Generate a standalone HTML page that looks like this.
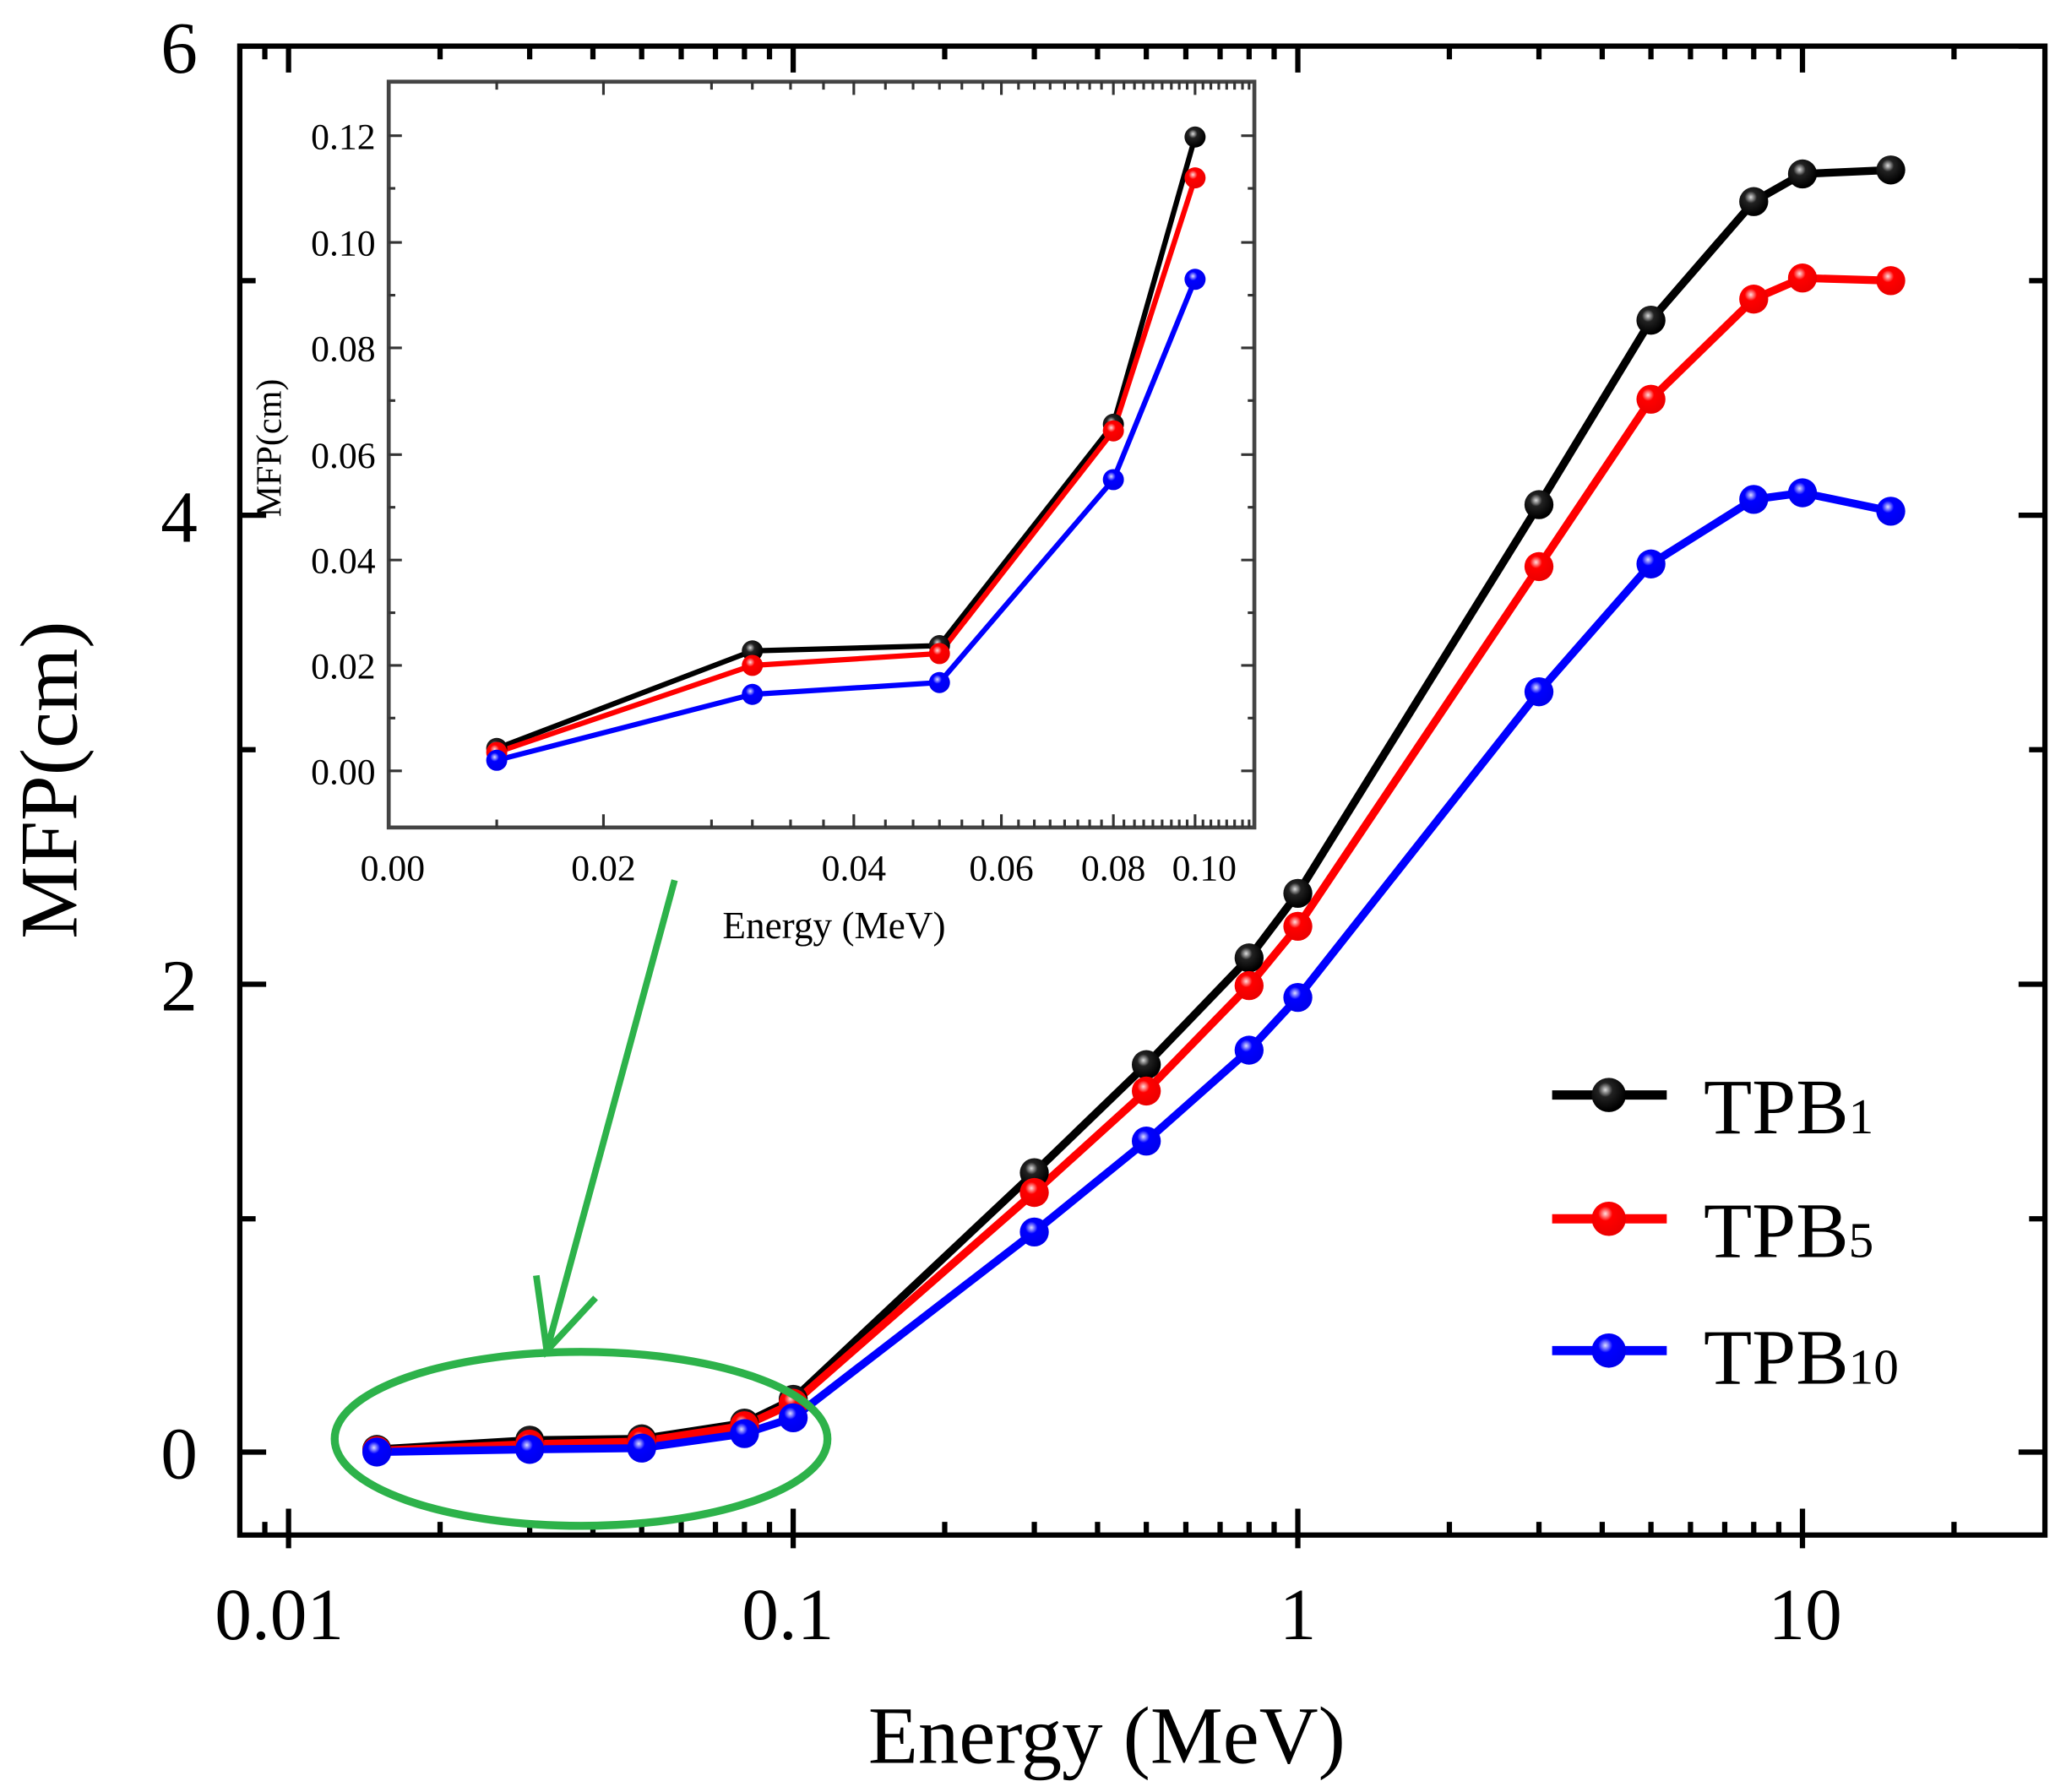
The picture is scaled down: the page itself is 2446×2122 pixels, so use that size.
<!DOCTYPE html>
<html><head><meta charset="utf-8"><style>html,body{margin:0;padding:0;background:#fff}svg{display:block}</style></head>
<body>
<svg width="2446" height="2122" viewBox="0 0 1568 1360" preserveAspectRatio="none" xmlns="http://www.w3.org/2000/svg" font-family="'Liberation Serif', serif">
<defs>
<radialGradient id="gk" cx="0.4" cy="0.35" r="0.6"><stop offset="0" stop-color="#ddd"/><stop offset="0.35" stop-color="#222"/><stop offset="1" stop-color="#000"/></radialGradient>
<radialGradient id="gr" cx="0.4" cy="0.35" r="0.6"><stop offset="0" stop-color="#fdd"/><stop offset="0.35" stop-color="#f00"/><stop offset="1" stop-color="#e00"/></radialGradient>
<radialGradient id="gb" cx="0.4" cy="0.35" r="0.6"><stop offset="0" stop-color="#ddf"/><stop offset="0.35" stop-color="#00f"/><stop offset="1" stop-color="#00e"/></radialGradient>
</defs>
<rect x="182" y="35" width="1370" height="1130" fill="none" stroke="#000" stroke-width="4"/>
<g stroke="#000" stroke-width="4">
<path d="M182 35h20M182 391h20M182 747h20M182 1102h20M1552 35h-20M1552 391h-20M1552 747h-20M1552 1102h-20"/>
<path d="M182 213h12M182 569h12M182 925h12M1552 213h-12M1552 569h-12M1552 925h-12"/>
<path d="M219 1165v-20M602 1165v-20M985 1165v-20M1368 1165v-20M219 35v20M602 35v20M985 35v20M1368 35v20"/>
<path d="M219 1165v10M602 1165v10M985 1165v10M1368 1165v10"/>
<path d="M201 1165v-10M334 1165v-10M402 1165v-10M450 1165v-10M487 1165v-10M517 1165v-10M543 1165v-10M565 1165v-10M584 1165v-10M717 1165v-10M785 1165v-10M833 1165v-10M870 1165v-10M900 1165v-10M926 1165v-10M948 1165v-10M967 1165v-10M1100 1165v-10M1168 1165v-10M1216 1165v-10M1253 1165v-10M1283 1165v-10M1309 1165v-10M1331 1165v-10M1350 1165v-10M1483 1165v-10"/>
<path d="M201 35v10M334 35v10M402 35v10M450 35v10M487 35v10M517 35v10M543 35v10M565 35v10M584 35v10M717 35v10M785 35v10M833 35v10M870 35v10M900 35v10M926 35v10M948 35v10M967 35v10M1100 35v10M1168 35v10M1216 35v10M1253 35v10M1283 35v10M1309 35v10M1331 35v10M1350 35v10M1483 35v10"/>
</g>
<g font-size="56" text-anchor="end" fill="#000">
<text x="150" y="55">6</text><text x="150" y="411">4</text><text x="150" y="767">2</text><text x="150" y="1122">0</text>
</g>
<g font-size="56" text-anchor="middle" fill="#000">
<text x="212" y="1244">0.01</text><text x="598" y="1244">0.1</text><text x="985" y="1244">1</text><text x="1370" y="1244">10</text>
</g>
<text x="840" y="1338" font-size="62" text-anchor="middle">Energy (MeV)</text>
<text transform="translate(58,592) rotate(-90)" font-size="62" text-anchor="middle">MFP(cm)</text>

<g fill="none" stroke-width="6" stroke-linejoin="round">
<polyline stroke="#000" points="286,1100 402,1093 487,1092 565,1080 602,1062 785,890 870,808 948,727 985,678 1168,383 1253,243 1331,153 1368,132 1435,129"/>
<polyline stroke="#f00" points="286,1101 402,1096 487,1094 565,1082 602,1065 785,905 870,828 948,748 985,703 1168,430 1253,303 1331,227 1368,211 1435,213"/>
<polyline stroke="#00f" points="286,1102 402,1100 487,1099 565,1088 602,1076 785,935 870,866 948,797 985,757 1168,525 1253,428 1331,379 1368,374 1435,388"/>
</g>
<g fill="url(#gk)">
<circle cx="286" cy="1100" r="11"/><circle cx="402" cy="1093" r="11"/><circle cx="487" cy="1092" r="11"/><circle cx="565" cy="1080" r="11"/><circle cx="602" cy="1062" r="11"/><circle cx="785" cy="890" r="11"/><circle cx="870" cy="808" r="11"/><circle cx="948" cy="727" r="11"/><circle cx="985" cy="678" r="11"/><circle cx="1168" cy="383" r="11"/><circle cx="1253" cy="243" r="11"/><circle cx="1331" cy="153" r="11"/><circle cx="1368" cy="132" r="11"/><circle cx="1435" cy="129" r="11"/>
</g>
<g fill="url(#gr)">
<circle cx="286" cy="1101" r="11"/><circle cx="402" cy="1096" r="11"/><circle cx="487" cy="1094" r="11"/><circle cx="565" cy="1082" r="11"/><circle cx="602" cy="1065" r="11"/><circle cx="785" cy="905" r="11"/><circle cx="870" cy="828" r="11"/><circle cx="948" cy="748" r="11"/><circle cx="985" cy="703" r="11"/><circle cx="1168" cy="430" r="11"/><circle cx="1253" cy="303" r="11"/><circle cx="1331" cy="227" r="11"/><circle cx="1368" cy="211" r="11"/><circle cx="1435" cy="213" r="11"/>
</g>
<g fill="url(#gb)">
<circle cx="286" cy="1102" r="11"/><circle cx="402" cy="1100" r="11"/><circle cx="487" cy="1099" r="11"/><circle cx="565" cy="1088" r="11"/><circle cx="602" cy="1076" r="11"/><circle cx="785" cy="935" r="11"/><circle cx="870" cy="866" r="11"/><circle cx="948" cy="797" r="11"/><circle cx="985" cy="757" r="11"/><circle cx="1168" cy="525" r="11"/><circle cx="1253" cy="428" r="11"/><circle cx="1331" cy="379" r="11"/><circle cx="1368" cy="374" r="11"/><circle cx="1435" cy="388" r="11"/>
</g>

<g stroke-width="7">
<line x1="1178" y1="831" x2="1265" y2="831" stroke="#000"/>
<line x1="1178" y1="925" x2="1265" y2="925" stroke="#f00"/>
<line x1="1178" y1="1025" x2="1265" y2="1025" stroke="#00f"/>
</g>
<circle cx="1221" cy="831" r="13" fill="url(#gk)"/>
<circle cx="1221" cy="925" r="13" fill="url(#gr)"/>
<circle cx="1221" cy="1025" r="13" fill="url(#gb)"/>
<g font-size="60">
<text x="1293" y="860">TPB<tspan font-size="38">1</tspan></text>
<text x="1293" y="954">TPB<tspan font-size="38">5</tspan></text>
<text x="1293" y="1050">TPB<tspan font-size="38">10</tspan></text>
</g>

<ellipse cx="441" cy="1092" rx="187" ry="66" fill="none" stroke="#2db24a" stroke-width="6"/>
<path d="M512 668L415 1025M407 968L415 1025L452 985" fill="none" stroke="#2db24a" stroke-width="5"/>

<rect x="295" y="62" width="657" height="566" fill="#fff" stroke="#444" stroke-width="3"/>
<g stroke="#333" stroke-width="2">
<path d="M295 103h10M295 184h10M295 264h10M295 345h10M295 425h10M295 505h10M295 585h10M952 103h-10M952 184h-10M952 264h-10M952 345h-10M952 425h-10M952 505h-10M952 585h-10"/>
<path d="M295 143h5M295 224h5M295 304h5M295 385h5M295 465h5M295 545h5M952 143h-5M952 224h-5M952 304h-5M952 385h-5M952 465h-5M952 545h-5"/>
<path d="M458 628v-10M648 628v-10M760 628v-10M845 628v-10M907 628v-10M458 62v10M648 62v10M760 62v10M845 62v10M907 62v10"/>
<path d="M377 62v6M540 62v6M571 62v6M600 62v6M625 62v6M672 62v6M693 62v6M713 62v6M730 62v6M746 62v6M773 62v6M785 62v6M797 62v6M808 62v6M818 62v6M827 62v6M836 62v6M853 62v6M861 62v6M868 62v6M875 62v6M882 62v6M889 62v6M895 62v6M901 62v6M913 62v6M919 62v6M925 62v6M931 62v6M937 62v6M943 62v6M948 62v6"/>
<path d="M377 628v-6M540 628v-6M571 628v-6M600 628v-6M625 628v-6M672 628v-6M693 628v-6M713 628v-6M730 628v-6M746 628v-6M773 628v-6M785 628v-6M797 628v-6M808 628v-6M818 628v-6M827 628v-6M836 628v-6M853 628v-6M861 628v-6M868 628v-6M875 628v-6M882 628v-6M889 628v-6M895 628v-6M901 628v-6M913 628v-6M919 628v-6M925 628v-6M931 628v-6M937 628v-6M943 628v-6M948 628v-6"/>
</g>
<g font-size="28" text-anchor="end">
<text x="285" y="113">0.12</text><text x="285" y="194">0.10</text><text x="285" y="274">0.08</text><text x="285" y="355">0.06</text><text x="285" y="435">0.04</text><text x="285" y="515">0.02</text><text x="285" y="595">0.00</text>
</g>
<g font-size="28" text-anchor="middle">
<text x="298" y="668">0.00</text><text x="458" y="668">0.02</text><text x="648" y="668">0.04</text><text x="760" y="668">0.06</text><text x="845" y="668">0.08</text><text x="914" y="668">0.10</text>
</g>
<text x="633" y="712" font-size="29" text-anchor="middle">Energy (MeV)</text>
<text transform="translate(213,340) rotate(-90)" font-size="27" text-anchor="middle">MFP(cm)</text>
<g fill="none" stroke-width="4">
<polyline stroke="#000" points="377,568 571,494 713,490 845,322 907,104"/>
<polyline stroke="#f00" points="377,571 571,505 713,496 845,327 907,135"/>
<polyline stroke="#00f" points="377,577 571,527 713,518 845,364 907,212"/>
</g>
<g fill="url(#gk)"><circle cx="377" cy="568" r="8"/><circle cx="571" cy="494" r="8"/><circle cx="713" cy="490" r="8"/><circle cx="845" cy="322" r="8"/><circle cx="907" cy="104" r="8"/></g>
<g fill="url(#gr)"><circle cx="377" cy="571" r="8"/><circle cx="571" cy="505" r="8"/><circle cx="713" cy="496" r="8"/><circle cx="845" cy="327" r="8"/><circle cx="907" cy="135" r="8"/></g>
<g fill="url(#gb)"><circle cx="377" cy="577" r="8"/><circle cx="571" cy="527" r="8"/><circle cx="713" cy="518" r="8"/><circle cx="845" cy="364" r="8"/><circle cx="907" cy="212" r="8"/></g>
</svg>
</body></html>
